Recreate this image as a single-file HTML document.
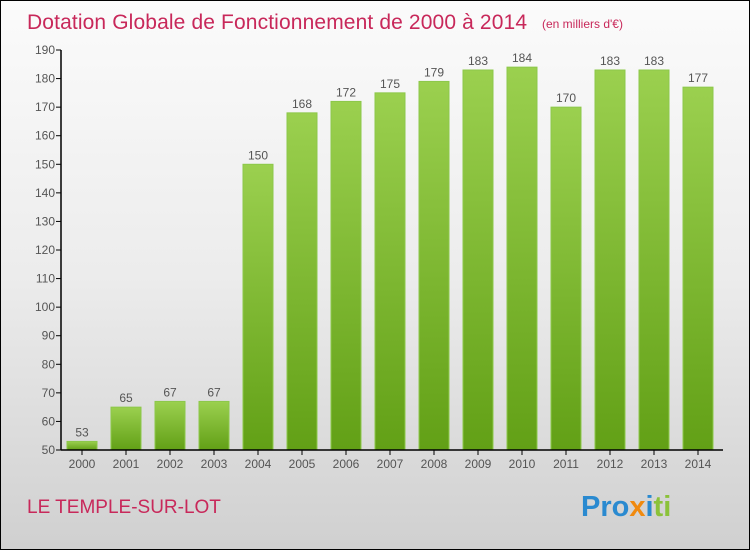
<!DOCTYPE html>
<html><head><meta charset="utf-8"><style>
body{margin:0;width:750px;height:550px;overflow:hidden;font-family:"Liberation Sans",sans-serif;}
#wrap{position:relative;width:748px;height:548px;border:1px solid #000;background:linear-gradient(#fbfbfb 0%,#ececec 50%,#d0d0d0 100%);}
</style></head><body>
<div id="wrap">
<svg width="748" height="548" id="svg">
<defs><linearGradient id="g" x1="0" y1="0" x2="0" y2="1"><stop offset="0" stop-color="#9bd04f"/><stop offset="1" stop-color="#62a016"/></linearGradient></defs>
<text x="26" y="28" font-size="21" fill="#c8285a" textLength="500">Dotation Globale de Fonctionnement de 2000 à 2014</text>
<text x="541" y="27" font-size="12" fill="#c8285a">(en milliers d'€)</text>
<text x="26" y="512" font-size="19" fill="#c8285a">LE TEMPLE-SUR-LOT</text>
<text x="580" y="515" font-size="29" font-weight="bold"><tspan fill="#2a8ad0">Pro</tspan><tspan fill="#f08a10">x</tspan><tspan fill="#2a8ad0">i</tspan><tspan fill="#8bc23a">ti</tspan></text>
<g id="plot"></g>
</svg></div>
<script>
const years=["2000","2001","2002","2003","2004","2005","2006","2007","2008","2009","2010","2011","2012","2013","2014"];
const values=[53,65,67,67,150,168,172,175,179,183,184,170,183,183,177];
const ticks=[50,60,70,80,90,100,110,120,130,140,150,160,170,180,190];
const NS="http://www.w3.org/2000/svg",g=document.getElementById('plot');
const y=v=>449-(v-50)*400/140, x=i=>81+44*i;
function el(t,a){const e=document.createElementNS(NS,t);for(const k in a)e.setAttribute(k,a[k]);g.appendChild(e);return e;}
ticks.forEach(t=>{
 const l=el('line',{x1:55,x2:60,y1:y(t),y2:y(t),stroke:'#000'});
 
 
 const tx=el('text',{x:54,y:y(t)+4,'font-size':12,fill:'#555','text-anchor':'end'});tx.textContent=t;
 
 
});
values.forEach((v,i)=>{
 const r=el('rect',{x:x(i)-15,y:y(v),width:30,height:y(50)-y(v),fill:'url(#g)',stroke:'#8cc84a','stroke-width':1});
 
 
 const t=el('text',{x:x(i),y:y(v)-5,'font-size':12,fill:'#555','text-anchor':'middle'});t.textContent=v;
 
 
 const tk=el('line',{x1:x(i),x2:x(i),y1:449,y2:454,stroke:'#000'});
 
 
 const xl=el('text',{x:x(i),y:467,'font-size':12,fill:'#555','text-anchor':'middle'});xl.textContent=years[i];
 
 
});
const ya=el('line',{x1:60,x2:60,y1:y(190),y2:449,stroke:'#000','stroke-width':1.5});


const xa=el('line',{x1:60,x2:722,y1:449,y2:449,stroke:'#000','stroke-width':1.5});


</script>
</body></html>
